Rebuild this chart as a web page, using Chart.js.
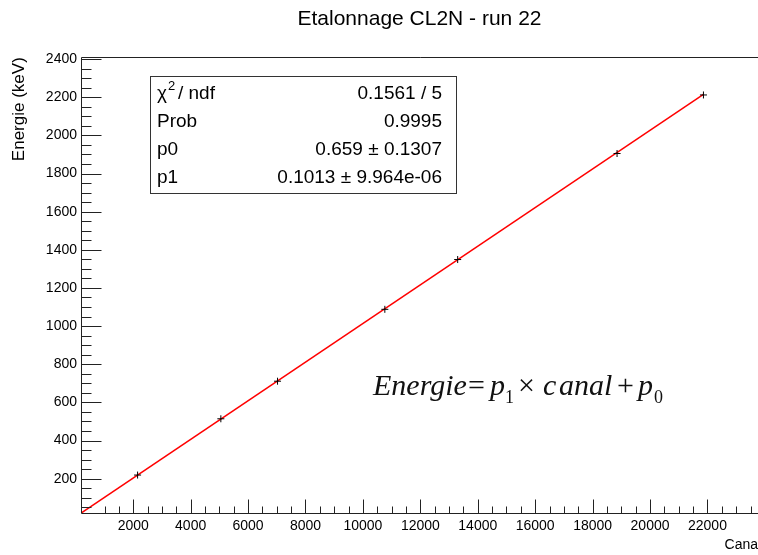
<!DOCTYPE html>
<html>
<head>
<meta charset="utf-8">
<script src="https://cdn.jsdelivr.net/npm/chart.js@4"></script>
<style>
  html, body { margin: 0; padding: 0; background: #fff; overflow: hidden; }
  #wrap { width: 758px; height: 555px; }
</style>
</head>
<body>
<div id="wrap"><canvas id="calib"></canvas></div>
<script>
// points de calibration : canal -> energie (keV)
const canal = [2152, 5052, 7026, 10763, 13300, 18851, 21860];
const energie = [219, 514, 711, 1088, 1349, 1905, 2212];

// droite d'ajustement pol1 (bouts)
const fitCanal = [181, 21860];
const fitEnergie = [19, 2215];

// graduations
const xTicks = [2000, 4000, 6000, 8000, 10000, 12000, 14000, 16000, 18000, 20000, 22000];
const yTicks = [200, 400, 600, 800, 1000, 1200, 1400, 1600, 1800, 2000, 2200, 2400];

// boite de stats
const statLabels = ['chi2', 'Prob', 'p0', 'p1'];
const statValues = ['0.1561 / 5', '0.9995', '0.659 \u00b1 0.1307', '0.1013 \u00b1 9.964e-06'];

const SANS = '"Liberation Sans", Arial, sans-serif';
const SERIF = '"Liberation Serif", "Times New Roman", serif';

// cadre, ticks interieurs facon ROOT, stats et formule
const rootStyle = {
    id: 'rootStyle',
    afterDraw(chart) {
        const ctx = chart.ctx;
        const a = chart.chartArea;
        const x = chart.scales.x;
        const y = chart.scales.y;
        const L = Math.round(a.left) + 0.5;
        const T = Math.round(a.top) + 0.5;
        const B = Math.round(a.bottom) + 0.5;

        ctx.save();
        ctx.strokeStyle = '#222';
        ctx.lineWidth = 1;
        ctx.beginPath();
        // bord droit hors du canvas
        ctx.moveTo(a.right + 2, T);
        ctx.lineTo(L, T);
        ctx.lineTo(L, B);
        ctx.lineTo(a.right + 2, B);

        for (let v = 1000; v <= x.max; v += 500) {
            const px = Math.round(x.getPixelForValue(v)) + 0.5;
            const len = v % 2000 === 0 ? 14 : 7;
            ctx.moveTo(px, B);
            ctx.lineTo(px, B - len);
        }
        for (let v = 50; v <= y.max; v += 50) {
            const py = Math.round(y.getPixelForValue(v)) + 0.5;
            const len = v % 200 === 0 ? 20 : 10;
            ctx.moveTo(L, py);
            ctx.lineTo(L + len, py);
        }
        ctx.stroke();

        // stats
        ctx.fillStyle = '#fff';
        ctx.fillRect(150.5, 76.5, 306, 117);
        ctx.strokeStyle = '#333';
        ctx.strokeRect(150.5, 76.5, 306, 117);
        ctx.fillStyle = '#000';
        ctx.textBaseline = 'alphabetic';
        statLabels.forEach(function (lab, i) {
            const by = 99 + i * 28;
            ctx.font = '19px ' + SANS;
            ctx.textAlign = 'left';
            if (lab === 'chi2') {
                ctx.fillText('\u03c7', 157, by);
                ctx.font = '13px ' + SANS;
                ctx.fillText('2', 168, by - 9);
                ctx.font = '19px ' + SANS;
                ctx.fillText('/ ndf', 178, by);
            } else {
                ctx.fillText(lab, 157, by);
            }
            ctx.textAlign = 'right';
            ctx.fillText(statValues[i], 442, by);
        });

        // formule
        ctx.fillStyle = '#111';
        ctx.textAlign = 'left';
        const it = 'italic 30px ' + SERIF;
        const up = '30px ' + SERIF;
        const sub = '18px ' + SERIF;
        const parts = [
            [it, 'Energie', 373, 395],
            [up, '=', 468, 395],
            [it, 'p', 490, 395],
            [sub, '1', 505, 403],
            [up, '\u00d7', 518, 395],
            [it, 'c', 543, 395],
            [it, 'anal', 559, 395],
            [up, '+', 617, 395],
            [it, 'p', 638, 395],
            [sub, '0', 654, 403]
        ];
        parts.forEach(function (p) {
            ctx.font = p[0];
            ctx.fillText(p[1], p[2], p[3]);
        });
        ctx.restore();
    }
};

const calibData = {
    datasets: [{
        type: 'scatter',
        label: 'mesures',
        data: canal.map((c, i) => ({x: c, y: energie[i]})),
        pointStyle: 'cross',
        pointRadius: 3.5,
        borderColor: '#000',
        backgroundColor: '#000',
        borderWidth: 1
    }, {
        type: 'line',
        label: 'fit',
        data: fitCanal.map((c, i) => ({x: c, y: fitEnergie[i]})),
        borderColor: '#ff0000',
        borderWidth: 1.5,
        pointRadius: 0,
        fill: false
    }]
};

const tickFont = {family: SANS, size: 14};

const calibConfig = {
    type: 'scatter',
    data: calibData,
    options: {
        responsive: true,
        maintainAspectRatio: false,
        animation: false,
        layout: {padding: 0, autoPadding: false},
        plugins: {
            legend: {display: false},
            tooltip: {enabled: false},
            title: {
                display: true,
                fullSize: false,
                text: 'Etalonnage CL2N - run 22',
                color: '#000',
                font: {family: SANS, size: 21, weight: 'normal'},
                padding: {top: 7, bottom: 25}
            }
        },
        scales: {
            x: {
                type: 'linear',
                min: 181,
                max: 23760,
                afterBuildTicks: function (s) { s.ticks = xTicks.map(v => ({value: v})); },
                afterFit: function (s) {
                    s.height = 42;
                    s.paddingLeft = 0;
                    s.paddingRight = 0;
                },
                grid: {display: false, drawTicks: false},
                border: {display: false},
                ticks: {
                    padding: 5,
                    maxRotation: 0,
                    autoSkip: false,
                    color: '#000',
                    font: tickFont,
                    callback: v => String(v)
                },
                title: {
                    display: true,
                    text: 'Cana',
                    align: 'end',
                    color: '#000',
                    font: {family: SANS, size: 14},
                    padding: {top: 0, bottom: 1}
                }
            },
            y: {
                min: 20,
                max: 2410,
                afterBuildTicks: function (s) { s.ticks = yTicks.map(v => ({value: v})); },
                afterFit: function (s) {
                    s.width = 81;
                    s.paddingTop = 0;
                    s.paddingBottom = 0;
                },
                grid: {display: false, drawTicks: false},
                border: {display: false},
                ticks: {
                    padding: 4,
                    autoSkip: false,
                    color: '#000',
                    font: tickFont,
                    callback: v => String(v)
                },
                title: {
                    display: true,
                    text: 'Energie (keV)',
                    align: 'end',
                    color: '#000',
                    font: {family: SANS, size: 17},
                    padding: {top: 9, bottom: 0}
                }
            }
        }
    },
    plugins: [rootStyle]
};

new Chart(document.getElementById('calib'), calibConfig);
</script>
</body>
</html>
